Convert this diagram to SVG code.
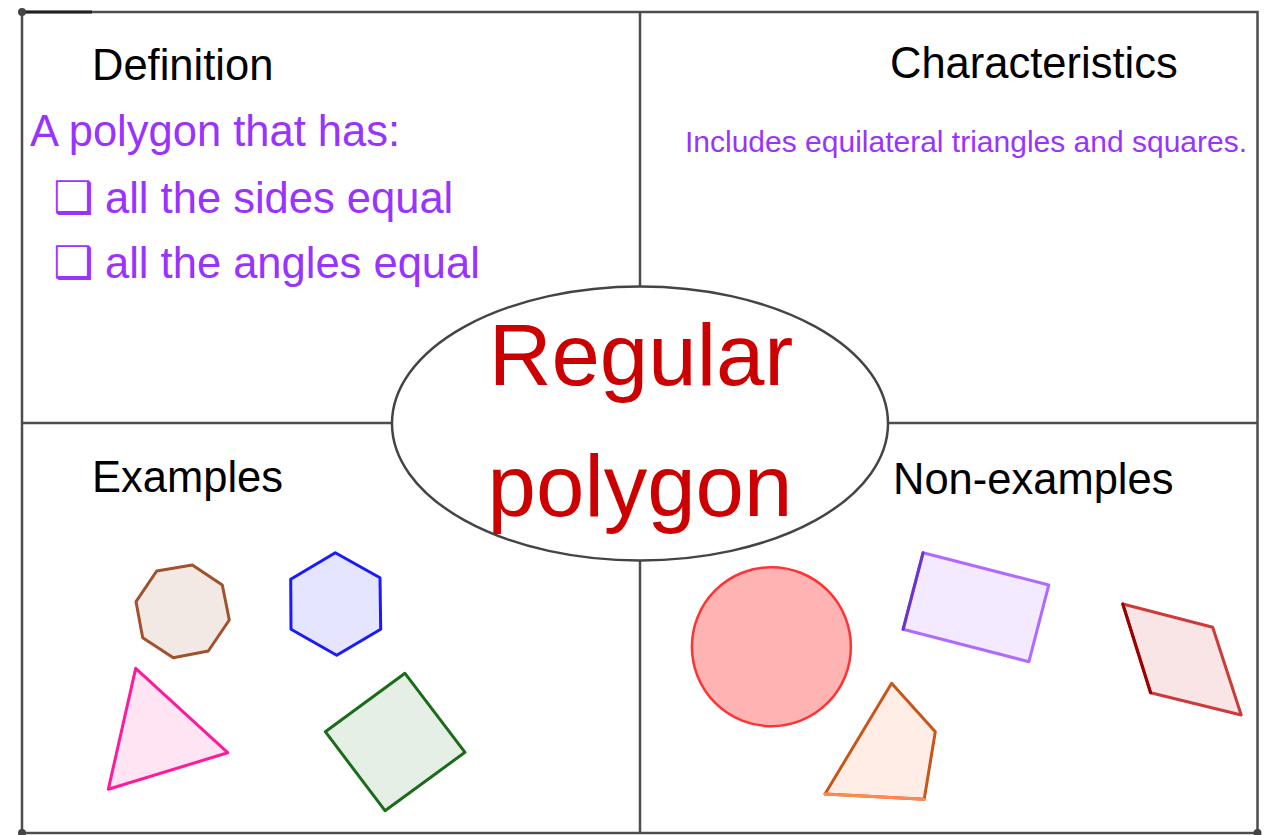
<svg xmlns="http://www.w3.org/2000/svg" width="1272" height="835" viewBox="0 0 1272 835">
<style>
.frame{stroke:#4d4d4d;stroke-width:2.5;fill:none}
.head{font-family:"Liberation Sans",Arial,sans-serif;font-size:43.5px;fill:#000}
.purple{font-family:"Liberation Sans",Arial,sans-serif;fill:#9933ff}
.box{font-family:"DejaVu Sans",sans-serif;font-size:45px}
.title{font-family:"Liberation Sans",Arial,sans-serif;font-size:87px;fill:#cc0000;text-anchor:middle}
.shape{stroke-width:3;stroke-linejoin:round}
</style>
<rect width="1272" height="835" fill="#fff"/>
<g id="frame">
<rect class="frame" x="22" y="12" width="1235.5" height="821"/>
<line class="frame" x1="640" y1="12" x2="640" y2="833"/>
<line class="frame" x1="22" y1="423" x2="1257.5" y2="423"/>
<line x1="22" y1="12" x2="92" y2="12" stroke="#222" stroke-width="3"/>
<circle cx="22" cy="12" r="4" fill="#444"/>
<circle cx="22" cy="833" r="4" fill="#444"/>
<circle cx="1257.5" cy="833" r="4" fill="#444"/>
</g>
<g id="center">
<ellipse cx="640" cy="423.5" rx="248" ry="137" fill="#fff" stroke="#444" stroke-width="2.5"/>
<text class="title" x="641" y="385">Regular</text>
<text class="title" x="640" y="516">polygon</text>
</g>
<g id="definition">
<text class="head" x="92" y="80">Definition</text>
<text class="purple" x="30" y="146" font-size="43.5">A polygon that has:</text>
<text class="purple" y="213" font-size="43.5"><tspan class="box" x="53">❑</tspan><tspan x="105">all the sides equal</tspan></text>
<text class="purple" y="278" font-size="43.5"><tspan class="box" x="53">❑</tspan><tspan x="105">all the angles equal</tspan></text>
</g>
<g id="characteristics">
<text class="head" x="890" y="78">Characteristics</text>
<text class="purple" x="685" y="152" font-size="30" fill="#a347ff">Includes equilateral triangles and squares.</text>
</g>
<g id="examples">
<text class="head" x="92" y="492">Examples</text>
<polygon class="shape" points="156.7,571 192.3,565 222.3,585 229.3,620 208.3,651 173.3,657.7 142.7,637.7 136,601.7" fill="#f3e9e4" stroke="#a0522d"/>
<polygon class="shape" points="335.3,552.7 380,577.7 380.7,629.3 336.7,655.3 291,629.3 290.7,579.3" fill="#e5e5ff" stroke="#1a1aff"/>
<polygon class="shape" points="135.7,668.3 227.7,752.7 108.3,789.3" fill="#ffe5f3" stroke="#ff1a9c"/>
<polygon class="shape" points="405,673.3 465,752.3 385,810.7 325.3,731.7" fill="#e5efe5" stroke="#1a6b1a"/>
</g>
<g id="non-examples">
<text class="head" x="893" y="494">Non-examples</text>
<circle cx="771.4" cy="646.7" r="79.5" fill="#ffb3b3" stroke="#ff3333" stroke-width="2.5"/>
<polygon class="shape" points="923.1,552.7 1048.8,585 1028.9,661.7 903.1,629.3" fill="#f3eaff" stroke="#b06aff"/>
<line x1="923.1" y1="552.7" x2="903.1" y2="629.3" stroke="#6a35cc" stroke-width="3" stroke-linecap="round"/>
<polygon class="shape" points="891.6,683.3 935.3,731.7 924.2,799.3 825,794" fill="#ffede6" stroke="#c8561a"/>
<line x1="825" y1="794" x2="924.2" y2="799.3" stroke="#ff8a4d" stroke-width="3" stroke-linecap="round"/>
<polygon class="shape" points="1122.8,604 1212.7,627.3 1241.2,715 1150.6,692.7" fill="#f9e5e5" stroke="#cc3a3a"/>
<line x1="1122.8" y1="604" x2="1150.6" y2="692.7" stroke="#990000" stroke-width="3" stroke-linecap="round"/>
</g>
</svg>
